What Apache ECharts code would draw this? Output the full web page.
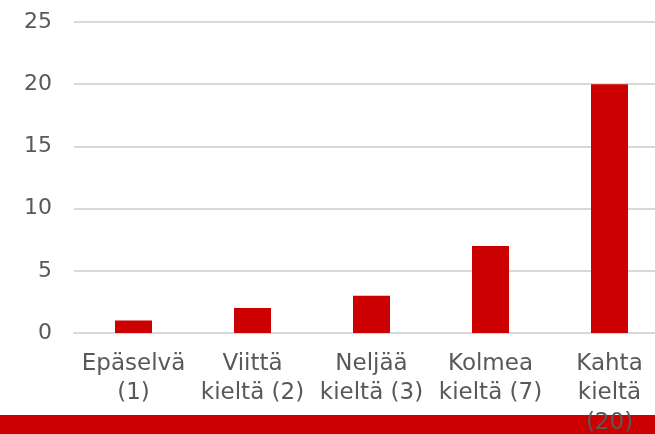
<!DOCTYPE html>
<html>
<head>
<meta charset="utf-8">
<script src="https://cdn.jsdelivr.net/npm/echarts@6/dist/echarts.min.js"></script>
<style>
  html, body { margin: 0; padding: 0; background: #ffffff; }
  #chart { width: 655px; height: 434px; }
</style>
</head>
<body>
<div id="chart"></div>
<script>
const categories = ["Epäselvä\n(1)", "Viittä\nkieltä (2)", "Neljää\nkieltä (3)", "Kolmea\nkieltä (7)", "Kahta\nkieltä\n(20)"];
const values = [1, 2, 3, 7, 20];

const myChart = echarts.init(document.getElementById("chart"));
const option = {
  animation: false,
  grid: { left: 74, width: 595, top: 22, height: 311, outerBoundsMode: "none" },
  xAxis: {
    type: "category",
    data: categories,
    axisLine: { lineStyle: { color: "#d9d9d9", width: 2 } },
    axisTick: { show: false },
    axisLabel: {
      interval: 0,
      color: "#595959",
      fontFamily: "DejaVu Sans",
      fontSize: 23,
      lineHeight: 29.5,
      margin: 16
    }
  },
  yAxis: {
    type: "value",
    min: 0,
    max: 25,
    interval: 5,
    axisLine: { show: false },
    axisTick: { show: false },
    splitLine: { lineStyle: { color: "#d9d9d9", width: 2 } },
    axisLabel: {
      color: "#595959",
      fontFamily: "DejaVu Sans",
      fontSize: 22,
      margin: 22
    }
  },
  graphic: [
    {
      type: "rect",
      z: -10,
      shape: { x: 0, y: 415, width: 655, height: 19 },
      style: { fill: "#cc0000" }
    }
  ],
  series: [
    {
      type: "bar",
      data: values,
      barWidth: 37,
      itemStyle: { color: "#cc0000" }
    }
  ]
};
myChart.setOption(option);
</script>
</body>
</html>
